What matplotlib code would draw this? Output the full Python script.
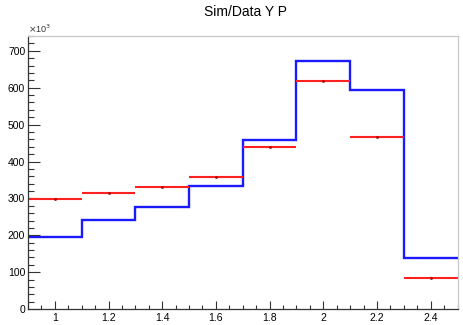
import matplotlib
matplotlib.use("Agg")
import matplotlib.pyplot as plt
from matplotlib.ticker import MultipleLocator, FuncFormatter

plt.rcParams['font.family'] = ['Liberation Sans', 'DejaVu Sans']

# bin edges and contents (in units of 10^3)
bin_edges = [0.9, 1.1, 1.3, 1.5, 1.7, 1.9, 2.1, 2.3, 2.5]
data_vals = [298, 315, 331, 358, 439, 617, 467, 85]
sim_vals = [195, 242, 277, 334, 457, 673, 594, 139]
title = "Sim/Data Y P"

fig = plt.figure(figsize=(4.64, 3.25), dpi=100)
ax = fig.add_axes([0.0603, 0.049, 0.9257, 0.840])

# simulation histogram
ax.stairs(sim_vals, bin_edges, baseline=None, color='#1a1aff', lw=1.7)

# data points with horizontal bin-width bars
centers = [(bin_edges[i] + bin_edges[i + 1]) / 2 for i in range(len(data_vals))]
half_w = [(bin_edges[i + 1] - bin_edges[i]) / 2 for i in range(len(data_vals))]
ax.errorbar(centers, data_vals, xerr=half_w, fmt='none', ecolor='#ff2020',
            elinewidth=1.5, capsize=0)
ax.plot(centers, data_vals, ls='none', marker='s', ms=0.9, color='#aa0000')

ax.set_xlim(0.9, 2.5)
ax.set_ylim(0, 740)

ax.xaxis.set_major_locator(MultipleLocator(0.2))
ax.xaxis.set_minor_locator(MultipleLocator(0.05))
ax.yaxis.set_major_locator(MultipleLocator(100))
ax.yaxis.set_minor_locator(MultipleLocator(20))
ax.xaxis.set_major_formatter(FuncFormatter(lambda v, p: "%g" % round(v, 2)))
ax.yaxis.set_major_formatter(FuncFormatter(lambda v, p: "%d" % v))

ax.tick_params(which='both', direction='in', top=False, right=False,
               labelsize=7.5, color='#333333', width=0.8)
ax.tick_params(axis='y', which='major', length=8.6, pad=2)
ax.tick_params(axis='y', which='minor', length=4.3)
ax.tick_params(axis='x', which='major', length=5.8, pad=3)
ax.tick_params(axis='x', which='minor', length=2.9)

for s in ['top', 'right']:
    ax.spines[s].set_color('#c8c8c8')
for s in ['left', 'bottom']:
    ax.spines[s].set_color('#333333')
for s in ax.spines.values():
    s.set_linewidth(0.9)

ax.text(0.0, 1.005, r"$\times$10$^{3}$", transform=ax.transAxes,
        fontsize=6.5, ha='left', va='bottom', color='#333333')
fig.text(0.53, 0.962, title, ha='center', va='center', fontsize=10)

fig.savefig("out.png", dpi=100)
